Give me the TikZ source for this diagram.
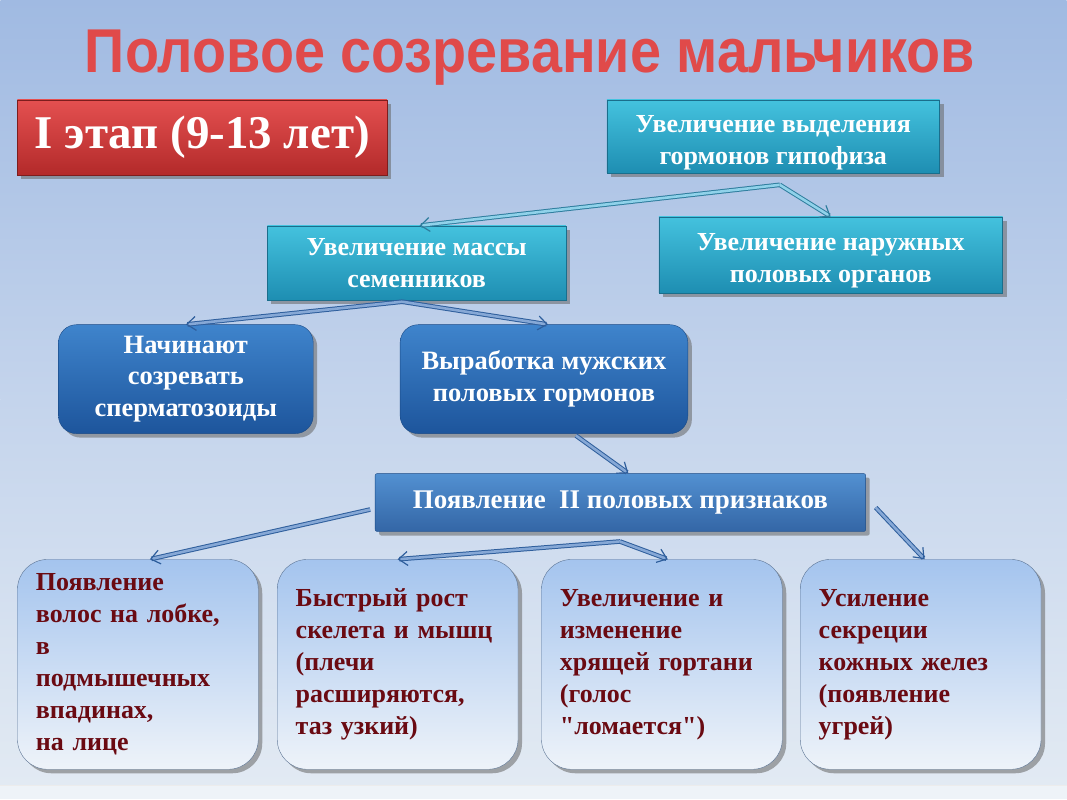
\documentclass[tikz,border=0pt]{standalone}
\usepackage{fontspec}
\setmainfont{Liberation Serif}[Ligatures=TeXOff]
\newfontfamily\titlefont{Liberation Sans}
\usetikzlibrary{shadows,arrows.meta}
\definecolor{bgtop}{HTML}{A0BAE2}
\definecolor{bgmid}{HTML}{C4D4EC}
\definecolor{bgbot}{HTML}{E2EAF3}
\definecolor{titlered}{HTML}{E04A4A}
\definecolor{redtop}{HTML}{E45050}
\definecolor{redbot}{HTML}{B32A2A}
\definecolor{tealtop}{HTML}{44C2DE}
\definecolor{tealbot}{HTML}{1E8EB2}
\definecolor{tealedge}{HTML}{1A6E8C}
\definecolor{dbtop}{HTML}{3F84CC}
\definecolor{dbbot}{HTML}{1D559C}
\definecolor{dbedge}{HTML}{1A4A86}
\definecolor{lbtop}{HTML}{A4C4EE}
\definecolor{lbbot}{HTML}{EEF3F9}
\definecolor{lbedge}{HTML}{5C7494}
\definecolor{darkred}{HTML}{6A0A12}
\definecolor{arrteal}{HTML}{2F7E9E}
\definecolor{arrtealin}{HTML}{90D2EA}
\definecolor{arrblue}{HTML}{2E5E9C}
\definecolor{arrbluein}{HTML}{86A8D6}
\begin{document}
\begin{tikzpicture}[x=1pt,y=-1pt,
  shad/.style={drop shadow={shadow xshift=4pt,shadow yshift=-4pt,fill=black!60,opacity=0.55}},
  redbox/.style={rectangle,draw=redbot!70!black,top color=redtop,bottom color=redbot,text=white,
    font=\bfseries\fontsize{47}{52}\selectfont,shad,inner sep=0pt},
  tealbox/.style={rectangle,draw=tealedge,top color=tealtop,bottom color=tealbot,text=white,
    font=\bfseries\fontsize{26}{32}\selectfont,align=center,shad,inner sep=0pt},
  dbbox/.style={rectangle,rounded corners=18pt,draw=dbedge,top color=dbtop,bottom color=dbbot,text=white,
    font=\bfseries\fontsize{26.5}{32}\selectfont,align=center,shad,inner sep=0pt},
  prbox/.style={rectangle,rounded corners=2pt,draw=dbedge,top color=dbtop!90!white,bottom color=dbbot!90!white,text=white,
    font=\bfseries\fontsize{27}{32}\selectfont,align=center,shad,inner sep=0pt},
  lbbox/.style={rectangle,rounded corners=30pt,draw=lbedge,top color=lbtop,bottom color=lbbot,text=darkred,
    font=\bfseries\fontsize{26}{32}\selectfont,align=left,text width=204pt,shad,
    minimum width=241pt,minimum height=210pt,inner sep=0pt},
  tarr/.style={draw=arrteal,line width=1pt,double=arrtealin,double distance=2.6pt,
    -{Straight Barb[length=9pt,width=14pt,line width=1.2pt]}},
  barr/.style={draw=arrblue,line width=1pt,double=arrbluein,double distance=2.6pt,
    -{Straight Barb[length=9pt,width=14pt,line width=1.2pt]}}
]
% background
\shade[top color=bgtop,bottom color=bgmid] (0,0) rectangle (1067,400);
\shade[top color=bgmid,bottom color=bgbot] (0,400) rectangle (1067,786);
\fill[bgbot!60!white] (0,786) rectangle (1067,800);
\draw[white!85!gray,line width=1pt] (0,786) -- (1067,786);

% title
\node[font=\titlefont\bfseries\fontsize{62}{66}\selectfont,text=titlered] (title) at (530,58)
  {\scalebox{0.9}[1]{Половое созревание мальчиков}};

% top row
\node[redbox,minimum width=370pt,minimum height=75pt] (stage) at (202,137.5) {I этап (9-13 лет)};
\node[tealbox,minimum width=333pt,minimum height=73pt] (hyp) at (773.5,136.5) {\rule{0pt}{29pt}Увеличение выделения\\гормонов гипофиза};
\node[tealbox,minimum width=299pt,minimum height=74pt] (mass) at (416.5,263) {Увеличение массы\\семенников};
\node[tealbox,minimum width=344pt,minimum height=76pt] (outer) at (831,255) {\rule{0pt}{29pt}Увеличение наружных\\половых органов};

% dark blue row
\node[dbbox,minimum width=255pt,minimum height=109pt] (sperm) at (185.5,379.5) {Начинают\\созревать\\сперматозоиды};
\node[dbbox,minimum width=288pt,minimum height=109pt] (horm) at (544,379.5) {Выработка мужских\\половых гормонов};
\node[prbox,minimum width=491pt,minimum height=58pt] (sec) at (620.5,503) {Появление\ \ II половых признаков};

% bottom boxes
\node[lbbox] (b1) at (137.5,665) {Появление\\волос на лобке,\\в\\подмышечных\\впадинах,\\на лице};
\node[lbbox] (b2) at (397.5,665) {Быстрый рост\\скелета и мышц\\(плечи\\расширяются,\\таз узкий)};
\node[lbbox] (b3) at (662,665) {Увеличение и\\изменение\\хрящей гортани\\(голос\\"ломается")};
\node[lbbox] (b4) at (921,665) {Усиление\\секреции\\кожных желез\\(появление\\угрей)};

% connectors
\coordinate (j1) at (780,185);
\coordinate (j2) at (402,302);
\coordinate (j3) at (620,542);
\coordinate (s4) at (576,436);
\coordinate (s5) at (370,510);
\coordinate (s6) at (876,508);
\draw[tarr] (j1) -- ([xshift=3pt]mass.north);
\draw[tarr] (j1) -- (outer.north);
\draw[barr] (j2) -- (sperm.north);
\draw[barr] (j2) -- ([xshift=4pt]horm.north);
\draw[barr] (s4) -- ([xshift=8pt]sec.north);
\draw[barr] (s5) -- ([xshift=12pt]b1.north);
\draw[barr] (j3) -- (b2.north);
\draw[barr] (j3) -- ([xshift=6pt]b3.north);
\draw[barr] (s6) -- ([xshift=4pt]b4.north);
\end{tikzpicture}
\end{document}
